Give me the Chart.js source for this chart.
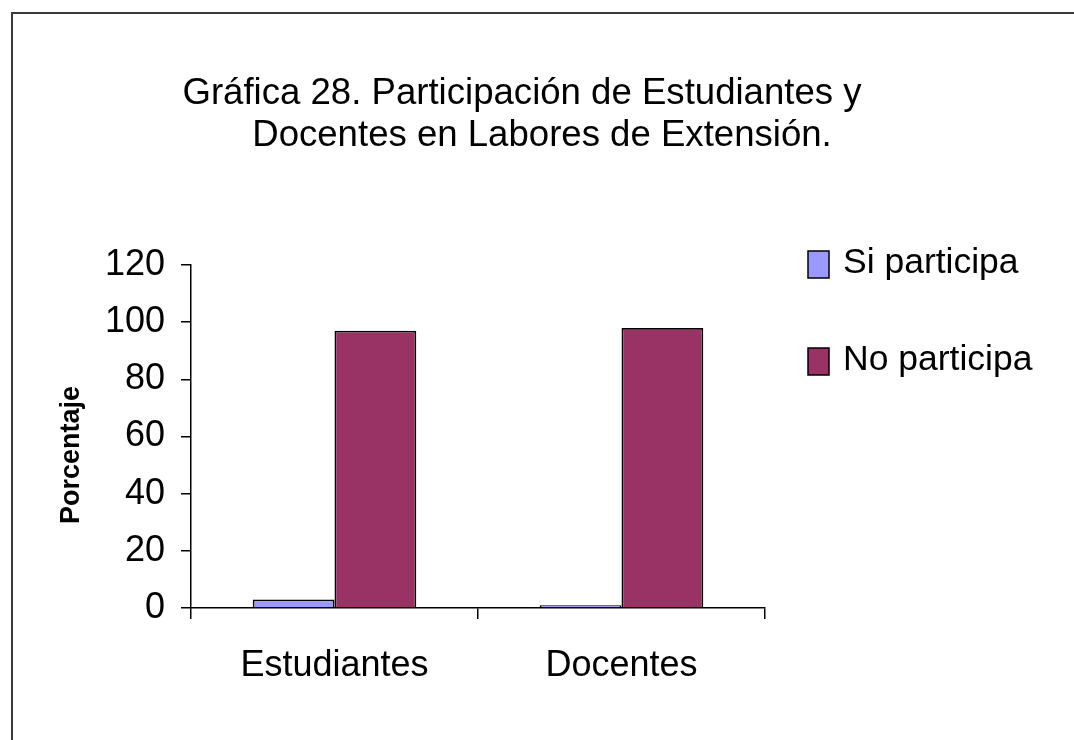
<!DOCTYPE html>
<html>
<head>
<meta charset="utf-8">
<script src="https://cdn.jsdelivr.net/npm/chart.js@4/dist/chart.umd.min.js"></script>
<style>
  html, body { margin: 0; padding: 0; background: #fff; overflow: hidden; }
  #wrap { position: relative; width: 1074px; height: 740px; }
  #frame { position: absolute; left: 11px; top: 12px; right: -10px; bottom: -10px;
           border-left: 2px solid #3a3a3a; border-top: 2px solid #3a3a3a; pointer-events: none; }
  canvas { position: absolute; left: 0; top: 0; }
</style>
</head>
<body>
<div id="wrap">
  <canvas id="canvas" width="1074" height="740"></canvas>
  <div id="frame"></div>
</div>
<script>
'use strict';

const CATEGORIES = ['Estudiantes', 'Docentes'];
const SERIES_LABELS = ['Si participa', 'No participa'];
const SI_PARTICIPA = [3, 1];
const NO_PARTICIPA = [97, 98];
const Y_MIN = 0;
const Y_MAX = 120;
const Y_STEP = 20;
const TITLE_LINES = ['Gráfica 28. Participación de Estudiantes y', 'Docentes en Labores de Extensión.'];
const Y_TITLE = 'Porcentaje';

const FONT = "'Liberation Sans', Arial, sans-serif";
const COLORS = ['#9999FF', '#993366'];

Chart.defaults.font.family = FONT;
Chart.defaults.color = '#000';

// title, rotated axis title and legend are drawn at fixed spots like the Excel original
let overlay = {
   id: 'overlay',
   afterDraw(chart) {
      let ctx = chart.ctx;
      ctx.save();
      ctx.fillStyle = '#000';
      ctx.textBaseline = 'alphabetic';

      ctx.font = '36.6px ' + FONT;
      ctx.textAlign = 'center';
      let centers = [522, 542];
      TITLE_LINES.forEach((line, i) => ctx.fillText(line, centers[i], 104 + i * 42));

      ctx.save();
      ctx.translate(79, 455);
      ctx.rotate(-Math.PI / 2);
      ctx.font = 'bold 27px ' + FONT;
      ctx.fillText(Y_TITLE, 0, 0);
      ctx.restore();

      ctx.textAlign = 'left';
      ctx.font = '35.5px ' + FONT;
      ctx.lineWidth = 1.5;
      chart.data.datasets.forEach((ds, i) => {
         let y = 251 + i * 97;
         ctx.fillStyle = ds.backgroundColor;
         ctx.fillRect(808, y, 21, 27);
         ctx.strokeStyle = '#000';
         ctx.strokeRect(808, y, 21, 27);
         ctx.fillStyle = '#000';
         ctx.fillText(ds.label, 843, y + 22);
      });
      ctx.restore();
   }
};

let ctx = document.querySelector('#canvas').getContext('2d');
let chart = new Chart(ctx, {
   type: 'bar',
   data: {
      labels: CATEGORIES,
      datasets: [
         {label: SERIES_LABELS[0], data: SI_PARTICIPA, backgroundColor: COLORS[0]},
         {label: SERIES_LABELS[1], data: NO_PARTICIPA, backgroundColor: COLORS[1]}
      ]
   },
   options: {
      responsive: false,
      animation: false,
      devicePixelRatio: 1,
      layout: {padding: {left: 0, top: 265, right: 309, bottom: 0}},
      datasets: {
         bar: {
            categoryPercentage: 0.57,
            barPercentage: 1,
            borderColor: '#000',
            borderWidth: 1.8,
            borderSkipped: 'start'
         }
      },
      plugins: {
         legend: {display: false},
         title: {display: false},
         tooltip: {enabled: false}
      },
      scales: {
         x: {
            afterFit(scale) { scale.height = 132; },
            grid: {offset: true, drawOnChartArea: false, drawTicks: true, tickLength: 11, color: '#000', lineWidth: 1.5},
            border: {display: true, color: '#000', width: 1.5},
            ticks: {font: {size: 36}, padding: 25, color: '#000'}
         },
         y: {
            min: Y_MIN,
            max: Y_MAX,
            afterFit(scale) { scale.width = 191; },
            grid: {drawOnChartArea: false, drawTicks: true, tickLength: 10, color: '#000', lineWidth: 1.5},
            border: {display: true, color: '#000', width: 1.5},
            ticks: {stepSize: Y_STEP, font: {size: 36}, padding: 16, color: '#000'}
         }
      }
   },
   plugins: [overlay]
});
</script>
</body>
</html>
